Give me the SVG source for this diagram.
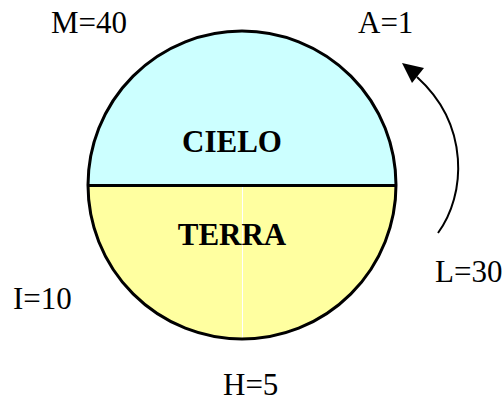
<svg xmlns="http://www.w3.org/2000/svg" width="504" height="401" viewBox="0 0 504 401">
<style>
.lbl{font-family:"Liberation Serif","Times New Roman",serif;font-size:31px;fill:#000}
.b{font-weight:bold}
.ol{fill:none;stroke:#000;stroke-width:3}
</style>
<rect width="504" height="401" fill="#fff"/>
<g id="cielo">
<path d="M88,185 A154,154 0 0 1 396,185 Z" fill="#CCFFFF"/>
<text class="lbl b" x="232" y="152" text-anchor="middle">CIELO</text>
</g>
<g id="terra">
<path d="M88,185 A154,154 0 0 0 396,185 Z" fill="#FFFFA0"/>
<line x1="242.5" y1="187" x2="242.5" y2="338" stroke="#fff" stroke-width="1"/>
<text class="lbl b" x="232" y="245" text-anchor="middle">TERRA</text>
</g>
<g id="outline">
<circle cx="242" cy="185" r="154" class="ol"/>
<line x1="88" y1="185.5" x2="396" y2="185.5" stroke="#000" stroke-width="3"/>
</g>
<g id="labels">
<text class="lbl" x="51" y="33">M=40</text>
<text class="lbl" x="358" y="33">A=1</text>
<text class="lbl" x="13" y="309">I=10</text>
<text class="lbl" x="435" y="282">L=30</text>
<text class="lbl" x="223" y="395">H=5</text>
</g>
<g id="connectors">
<path d="M438,233 C466,195 470,125 417,77" fill="none" stroke="#000" stroke-width="2"/>
<polygon points="402,63 412,83 424,68" fill="#000"/>
</g>
</svg>
